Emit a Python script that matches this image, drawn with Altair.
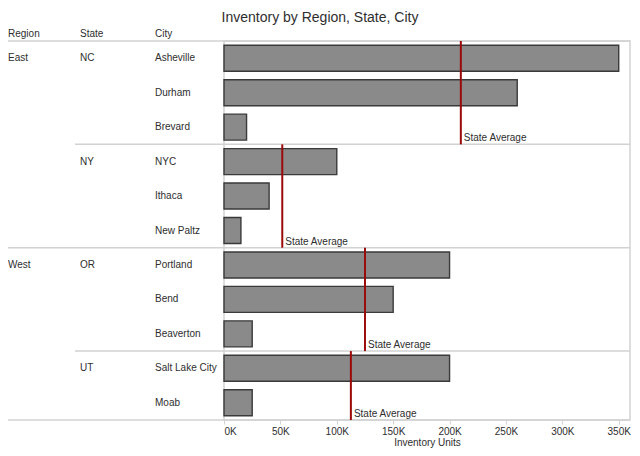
import altair as alt
import pandas as pd

title_text = "Inventory by Region, State, City"
headers = ["Region", "State", "City"]
regions = ["East", "East", "East", "East", "East", "East", "West", "West", "West", "West", "West"]
states = ["NC", "NC", "NC", "NY", "NY", "NY", "OR", "OR", "OR", "UT", "UT"]
cities = ["Asheville", "Durham", "Brevard", "NYC", "Ithaca", "New Paltz",
          "Portland", "Bend", "Beaverton", "Salt Lake City", "Moab"]
inventory = [350000, 260000, 20000, 100000, 40000, 15000,
             200000, 150000, 25000, 200000, 25000]
x_ticks = [0, 50000, 100000, 150000, 200000, 250000, 300000, 350000]
x_title = "Inventory Units"
ref_label = "State Average"

W, H = 406, 379
COL_X = {"Region": -216, "State": -144, "City": -69}
TXT = "#2e2e2e"
GRID = "#d2d2d2"

df = pd.DataFrame({"Region": regions, "State": states, "City": cities, "Inventory": inventory})
df["RegionLabel"] = df["Region"].where(~df["Region"].duplicated(), "")
df["StateLabel"] = df["State"].where(~df["State"].duplicated(), "")

st = (df.groupby("State", sort=False)
        .agg(avg=("Inventory", "mean"), first=("City", "first"), last=("City", "last"))
        .reset_index())

state_change = df["State"].ne(df["State"].shift())
region_change = df["Region"].ne(df["Region"].shift())
state_breaks = df[state_change & ~region_change].copy()
region_breaks = df[region_change].iloc[1:].copy()

one = pd.DataFrame({"k": [0]})

yscale = alt.Scale(domain=cities, paddingInner=0, paddingOuter=0)
y_enc = alt.Y("City:N", scale=yscale, axis=None)

bars = alt.Chart(df).mark_bar(size=26, color="#8a8a8a", stroke="#3a3a3a", strokeWidth=1.4).encode(
    x=alt.X("Inventory:Q", scale=alt.Scale(domain=[0, 360000], nice=False),
            axis=alt.Axis(values=x_ticks, labelExpr="(datum.value/1000) + 'K'",
                          title=x_title, domain=False, grid=False, ticks=True,
                          tickColor=GRID, tickSize=4, labelFontSize=10, labelColor=TXT,
                          labelPadding=2, titleFontSize=10, titleFontWeight="normal",
                          titleColor=TXT, titlePadding=1, labelFlush=True)),
    y=y_enc,
)

city_txt = alt.Chart(df).mark_text(align="left", baseline="middle", fontSize=10, color=TXT).encode(
    x=alt.value(COL_X["City"]), y=y_enc, text="City:N")
state_txt = alt.Chart(df).mark_text(align="left", baseline="middle", fontSize=10, color=TXT).encode(
    x=alt.value(COL_X["State"]), y=y_enc, text="StateLabel:N")
region_txt = alt.Chart(df).mark_text(align="left", baseline="middle", fontSize=10, color=TXT).encode(
    x=alt.value(COL_X["Region"]), y=y_enc, text="RegionLabel:N")

header_layers = [
    alt.Chart(one).mark_text(align="left", baseline="middle", fontSize=10, color=TXT).encode(
        x=alt.value(COL_X[h]), y=alt.value(-7), text=alt.value(h))
    for h in headers
]

title_mark = alt.Chart(one).mark_text(align="center", baseline="middle", fontSize=14, color=TXT).encode(
    x=alt.value(96), y=alt.value(-23), text=alt.value(title_text))

top_line = alt.Chart(one).mark_rule(color=GRID, strokeWidth=1.5).encode(
    x=alt.value(-216), x2=alt.value(W), y=alt.value(0))
bottom_line = alt.Chart(one).mark_rule(color=GRID, strokeWidth=1.5).encode(
    x=alt.value(-216), x2=alt.value(W), y=alt.value(H))

state_sep = alt.Chart(state_breaks).mark_rule(color=GRID, strokeWidth=1.5).encode(
    y=alt.Y("City:N", bandPosition=0, scale=yscale, axis=None),
    x=alt.value(-149), x2=alt.value(W))
region_sep = alt.Chart(region_breaks).mark_rule(color=GRID, strokeWidth=1.5).encode(
    y=alt.Y("City:N", bandPosition=0, scale=yscale, axis=None),
    x=alt.value(-216), x2=alt.value(W))

avg_rule = alt.Chart(st).mark_rule(color="#9b0a0a", strokeWidth=2).encode(
    x=alt.X("avg:Q"),
    y=alt.Y("first:N", bandPosition=0, scale=yscale, axis=None),
    y2=alt.Y2("last:N", bandPosition=1),
)
avg_label = alt.Chart(st).mark_text(align="left", baseline="bottom", dx=3, dy=-1,
                                    fontSize=10, color=TXT).encode(
    x=alt.X("avg:Q"),
    y=alt.Y("last:N", bandPosition=1, scale=yscale, axis=None),
    text=alt.value(ref_label),
)

chart = alt.layer(
    top_line, bottom_line, state_sep, region_sep,
    bars, avg_rule, avg_label,
    city_txt, state_txt, region_txt, *header_layers, title_mark,
).properties(
    width=W, height=H,
    autosize=alt.AutoSizeParams(type="none"),
    padding={"left": 216, "top": 33, "right": 2, "bottom": 28},
).configure(font="Liberation Sans").configure_view(stroke=GRID, strokeWidth=1.5)

chart.save("out.html", embed_options={"renderer": "svg", "actions": False})
